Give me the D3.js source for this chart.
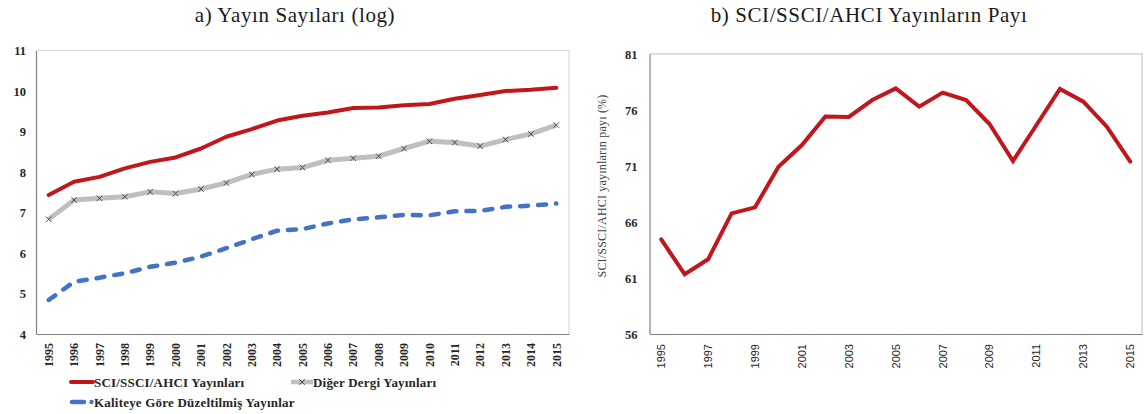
<!DOCTYPE html>
<html><head><meta charset="utf-8">
<script src="https://cdn.jsdelivr.net/npm/d3@7"></script>
<style>
body{margin:0;background:#fff;}
svg{display:block;}
</style></head>
<body>
<svg id="chart" width="1145" height="414"></svg>
<script>
const years = d3.range(1995, 2016).map(String);
const sciLog = [7.43,7.76,7.88,8.09,8.25,8.36,8.58,8.87,9.06,9.27,9.39,9.47,9.58,9.59,9.65,9.68,9.81,9.90,10.00,10.03,10.08];
const otherLog = [6.83,7.31,7.35,7.39,7.51,7.47,7.58,7.73,7.94,8.07,8.11,8.29,8.34,8.39,8.58,8.76,8.73,8.64,8.80,8.94,9.16];
const adjLog = [4.84,5.29,5.39,5.50,5.66,5.76,5.91,6.12,6.34,6.55,6.59,6.73,6.83,6.88,6.94,6.93,7.03,7.04,7.14,7.17,7.22];
const sharePct = [64.45,61.33,62.67,66.77,67.31,70.94,72.87,75.42,75.38,76.89,77.93,76.30,77.55,76.89,74.75,71.45,74.66,77.88,76.74,74.51,71.40];
const leftTicks = [4,5,6,7,8,9,10,11];
const rightTicks = [56,61,66,71,76,81];
const rightXTicks = years.filter((d,i)=>i%2===0);
const titleA = "a) Yayın Sayıları (log)";
const titleB = "b) SCI/SSCI/AHCI Yayınların Payı";
const yTitleB = "SCI/SSCI/AHCI yayınların payı (%)";
const legendNames = ["SCI/SSCI/AHCI Yayınları","Diğer Dergi Yayınları","Kaliteye Göre Düzeltilmiş Yayınlar"];

const RED = "#c0161c", GREY = "#bfbfbf", BLUE = "#4472c4";
const SERIF = "'Palatino Linotype','Book Antiqua',Palatino,'Liberation Serif',serif";
const svg = d3.select("#chart");

// ---------- Chart A ----------
const A = {l:36, r:569, t:50.5, b:334};
const xA = d3.scaleBand().domain(years).range([A.l, A.r]);
const yA = d3.scaleLinear().domain([4,11]).range([A.b, A.t]);
const gA = svg.append("g");
gA.append("path").attr("d",`M${A.l},${A.t}H${A.r}V${A.b}`).attr("fill","none").attr("stroke","#d9d9d9").attr("stroke-width",1.2);
const axYA = gA.append("g").attr("transform",`translate(${A.l},0)`).call(d3.axisLeft(yA).tickValues(leftTicks).tickSize(0).tickPadding(10).tickFormat(d3.format("d")));
axYA.select(".domain").attr("stroke","#808080").attr("stroke-width",1.2);
axYA.selectAll("text").attr("font-family",SERIF).attr("font-weight","bold").attr("font-size","12.5px").attr("fill","#262626");
const axXA = gA.append("g").attr("transform",`translate(0,${A.b})`).call(d3.axisBottom(xA).tickSize(0).tickPadding(0));
axXA.select(".domain").attr("stroke","#808080").attr("stroke-width",1.2);
axXA.selectAll("text").attr("font-family",SERIF).attr("font-weight","bold").attr("font-size","12px").attr("fill","#262626")
  .attr("transform","rotate(-90)").attr("text-anchor","end").attr("dx","-9px").attr("dy","0.35em").attr("x",0).attr("y",0);

const lineA = d3.line().x((d,i)=>xA(years[i])+xA.bandwidth()/2).y(d=>yA(d));
gA.append("path").datum(adjLog).attr("d",lineA).attr("fill","none").attr("stroke",BLUE).attr("stroke-width",4.5).attr("stroke-dasharray","8,10").attr("stroke-linecap","round").attr("stroke-linejoin","round");
gA.append("path").datum(otherLog).attr("d",lineA).attr("fill","none").attr("stroke",GREY).attr("stroke-width",5).attr("stroke-linejoin","round");
gA.append("path").datum(sciLog).attr("d",lineA).attr("fill","none").attr("stroke",RED).attr("stroke-width",4).attr("stroke-linejoin","round").attr("stroke-linecap","round");
const cross = d3.symbol().type(d3.symbolX).size(22);
gA.append("g").selectAll("path").data(otherLog).join("path")
  .attr("d",cross).attr("transform",(d,i)=>`translate(${xA(years[i])+xA.bandwidth()/2},${yA(d)})`)
  .attr("fill","none").attr("stroke","#404040").attr("stroke-width",0.9);

svg.append("text").attr("x",295).attr("y",22).attr("text-anchor","middle").attr("font-family",SERIF).attr("font-size","21px").attr("letter-spacing","0.6px").attr("fill","#1a1a1a").text(titleA);

// Legend
const lg = svg.append("g").attr("font-family",SERIF).attr("font-weight","bold").attr("font-size","13px").attr("letter-spacing","0.2px").attr("fill","#262626");
lg.append("line").attr("x1",71).attr("x2",93).attr("y1",382).attr("y2",382).attr("stroke",RED).attr("stroke-width",4).attr("stroke-linecap","round");
lg.append("text").attr("x",94).attr("y",386.5).text(legendNames[0]);
lg.append("line").attr("x1",291).attr("x2",313).attr("y1",382).attr("y2",382).attr("stroke",GREY).attr("stroke-width",4.5);
lg.append("path").attr("d",cross).attr("transform","translate(302,382)").attr("fill","none").attr("stroke","#404040").attr("stroke-width",0.9);
lg.append("text").attr("x",313).attr("y",386.5).text(legendNames[1]);
lg.append("line").attr("x1",72).attr("x2",84).attr("y1",402).attr("y2",402).attr("stroke",BLUE).attr("stroke-width",4.5).attr("stroke-linecap","round");
lg.append("circle").attr("cx",91.5).attr("cy",402).attr("r",2.2).attr("fill",BLUE);
lg.append("text").attr("x",94).attr("y",406.5).text(legendNames[2]);

// ---------- Chart B ----------
const B = {l:649.5, r:1142, t:54, b:334};
const xB = d3.scaleBand().domain(years).range([B.l, B.r]);
const yB = d3.scaleLinear().domain([56,81]).range([B.b, B.t]);
const gB = svg.append("g");
gB.append("path").attr("d",`M${B.l},${B.t}H${B.r}V${B.b}`).attr("fill","none").attr("stroke","#dedede").attr("stroke-width",2);
const axYB = gB.append("g").attr("transform",`translate(${B.l},0)`).call(d3.axisLeft(yB).tickValues(rightTicks).tickSize(0).tickPadding(12).tickFormat(d3.format("d")));
axYB.select(".domain").attr("stroke","#808080").attr("stroke-width",1.2);
axYB.selectAll("text").attr("font-family",SERIF).attr("font-weight","bold").attr("font-size","12.5px").attr("fill","#262626");
const axXB = gB.append("g").attr("transform",`translate(0,${B.b})`).call(d3.axisBottom(xB).tickValues(rightXTicks).tickSize(0).tickPadding(0));
axXB.select(".domain").attr("stroke","#808080").attr("stroke-width",1.2);
axXB.selectAll("text").attr("font-family","'Liberation Sans',Arial,sans-serif").attr("font-size","11px").attr("fill","#262626")
  .attr("transform","rotate(-90)").attr("text-anchor","end").attr("dx","-10px").attr("dy","0.35em").attr("x",0).attr("y",0);
const lineB = d3.line().x((d,i)=>xB(years[i])+xB.bandwidth()/2).y(d=>yB(d));
gB.append("path").datum(sharePct).attr("d",lineB).attr("fill","none").attr("stroke",RED).attr("stroke-width",4).attr("stroke-linejoin","miter").attr("stroke-linecap","round");

svg.append("text").attr("x",869).attr("y",22).attr("text-anchor","middle").attr("font-family",SERIF).attr("font-size","21px").attr("letter-spacing","0.6px").attr("fill","#1a1a1a").text(titleB);
svg.append("text").attr("transform","translate(606,186) rotate(-90)").attr("text-anchor","middle").attr("font-family",SERIF).attr("font-size","12px").attr("letter-spacing","0.2px").attr("fill","#404040").text(yTitleB);
</script>
</body></html>
